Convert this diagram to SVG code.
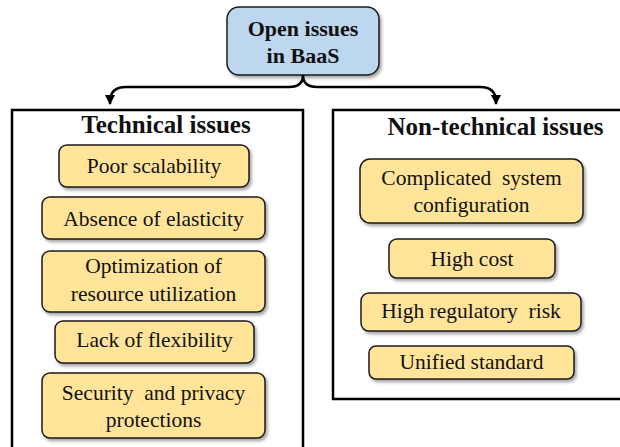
<svg xmlns="http://www.w3.org/2000/svg" width="620" height="447" viewBox="0 0 620 447">
<defs>
<filter id="sh" x="-10%" y="-10%" width="125%" height="140%">
<feDropShadow dx="2" dy="2.5" stdDeviation="1.5" flood-color="#000" flood-opacity="0.35"/>
</filter>
<marker id="ah" viewBox="0 0 10 10" refX="9" refY="5" markerWidth="4" markerHeight="4" orient="auto" markerUnits="strokeWidth">
<path d="M0,0 L10,5 L0,10 z" fill="#000"/>
</marker>
<style>
.item rect{fill:#FFE49A;stroke:#1a1a1a;stroke-width:1.5;filter:url(#sh)}
.item text{font-family:"Liberation Serif","Times New Roman",serif;font-size:21.5px;fill:#111;text-anchor:middle}
.panel{fill:#fff;stroke:#000;stroke-width:2.5}
.title{font-family:"Liberation Serif","Times New Roman",serif;font-size:25px;font-weight:bold;fill:#111;text-anchor:middle}
.conn{fill:none;stroke:#000;stroke-width:2.5}
</style>
</defs>
<rect width="620" height="447" fill="#fff"/>

<g id="technical">
<rect class="panel" x="12" y="110" width="291" height="345"/>
<text class="title" x="166" y="133">Technical issues</text>
</g>
<g id="nontechnical">
<rect class="panel" x="333" y="110" width="300" height="289"/>
<text class="title" x="495.5" y="135">Non-technical issues</text>
</g>

<g id="root">
<rect x="227" y="7" width="152" height="68" rx="12" fill="#BDD7EE" stroke="#1a1a1a" stroke-width="1.5" filter="url(#sh)"/>
<text x="303" y="36" font-family="'Liberation Serif','Times New Roman',serif" font-size="22" font-weight="bold" fill="#111" text-anchor="middle">Open issues</text>
<text x="303" y="63" font-family="'Liberation Serif','Times New Roman',serif" font-size="22" font-weight="bold" fill="#111" text-anchor="middle">in BaaS</text>
</g>

<g id="connectors">
<path class="conn" d="M303,75 Q303,87 289,87 L126,87 Q110,87 110,102 L110,104" marker-end="url(#ah)"/>
<path class="conn" d="M303,75 Q303,87 317,87 L480,87 Q496,87 496,102 L496,104" marker-end="url(#ah)"/>
</g>

<g id="poor-scalability" class="item">
<rect x="59" y="145" width="190" height="42" rx="8"/>
<text x="154" y="173">Poor scalability</text>
</g>
<g id="absence-elasticity" class="item">
<rect x="42" y="197" width="223" height="42" rx="8"/>
<text x="153.5" y="226">Absence of elasticity</text>
</g>
<g id="optimization" class="item">
<rect x="42" y="251" width="223" height="61" rx="8"/>
<text x="153.5" y="273">Optimization  of</text>
<text x="153.5" y="301">resource utilization</text>
</g>
<g id="lack-flexibility" class="item">
<rect x="55" y="321" width="199" height="42" rx="8"/>
<text x="154.5" y="347">Lack of flexibility</text>
</g>
<g id="security-privacy" class="item">
<rect x="42" y="373" width="223" height="65" rx="8"/>
<text x="153.5" y="400" xml:space="preserve">Security  and privacy</text>
<text x="153.5" y="427">protections</text>
</g>

<g id="complicated-config" class="item">
<rect x="360" y="159" width="223" height="64" rx="10"/>
<text x="471.5" y="185" xml:space="preserve">Complicated  system</text>
<text x="471.5" y="212">configuration</text>
</g>
<g id="high-cost" class="item">
<rect x="389" y="239" width="166" height="39" rx="8"/>
<text x="472" y="266">High cost</text>
</g>
<g id="high-regulatory-risk" class="item">
<rect x="361" y="293" width="220" height="38" rx="8"/>
<text x="471" y="318" xml:space="preserve">High regulatory  risk</text>
</g>
<g id="unified-standard" class="item">
<rect x="369" y="346" width="205" height="33" rx="7"/>
<text x="471.5" y="369">Unified standard</text>
</g>
</svg>
